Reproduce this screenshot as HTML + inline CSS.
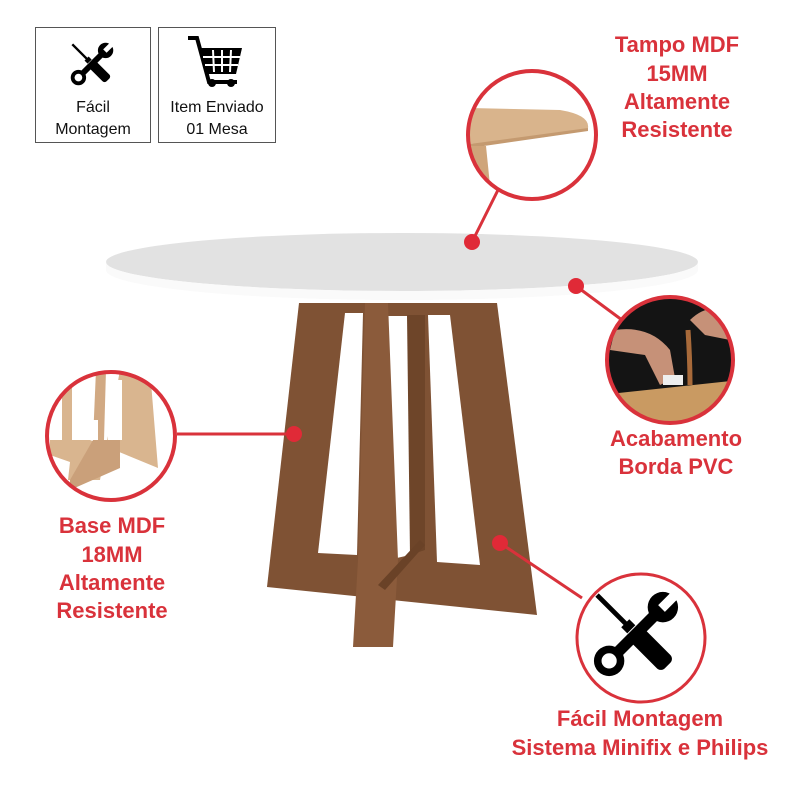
<!DOCTYPE html>
<html><head><meta charset="utf-8"><style>
body{margin:0;background:#fff;}
svg{display:block}
text{font-family:"Liberation Sans",sans-serif}
</style></head><body>
<svg width="800" height="800" viewBox="0 0 800 800" xmlns="http://www.w3.org/2000/svg">
<defs>
<g id="tools">
  <!-- wrench: ring lower-left, jaw upper-right -->
  <g transform="rotate(45)">
    <rect x="-6" y="-36" width="12" height="66" fill="#000"/>
    <circle cx="0" cy="40" r="16" fill="#000"/>
    <circle cx="0" cy="40" r="8" fill="#fff"/>
    <circle cx="0" cy="-40" r="16" fill="#000"/>
    <rect x="-5" y="-60" width="10" height="22" fill="#fff"/>
  </g>
  <!-- screwdriver: tip upper-left, handle lower-right -->
  <g transform="rotate(-45)">
    <rect x="-2.5" y="-58" width="5" height="46" fill="#000"/>
    <rect x="-6" y="-16" width="12" height="9" fill="#000"/>
    <rect x="-10" y="-5" width="20" height="52" rx="6" fill="#000"/>
  </g>
</g>
</defs>

<!-- top-left boxes -->
<rect x="35.5" y="27.5" width="115" height="115" fill="#fff" stroke="#555"/>
<rect x="158.5" y="27.5" width="117" height="115" fill="#fff" stroke="#555"/>
<use href="#tools" transform="translate(92,64) scale(0.48)"/>
<text x="93" y="112" font-size="16" text-anchor="middle" fill="#111">Fácil</text>
<text x="93" y="134" font-size="16" text-anchor="middle" fill="#111">Montagem</text>
<!-- cart -->
<g fill="none" stroke="#000" stroke-width="4">
  <path d="M188,38 h9 l12,44 h28"/>
</g>
<path d="M201,48 h41 l-6,26 h-29z" fill="#000"/>
<g stroke="#fff" stroke-width="2">
  <line x1="213" y1="50" x2="214" y2="72"/><line x1="222" y1="50" x2="222" y2="72"/><line x1="231" y1="50" x2="230" y2="72"/>
  <line x1="203" y1="57" x2="240" y2="57"/><line x1="205" y1="65" x2="238" y2="65"/>
</g>
<circle cx="212" cy="83" r="4" fill="#000"/><circle cx="231" cy="83" r="4" fill="#000"/>
<text x="217" y="112" font-size="16" text-anchor="middle" fill="#111">Item Enviado</text>
<text x="217" y="134" font-size="16" text-anchor="middle" fill="#111">01 Mesa</text>

<!-- table top -->
<ellipse cx="402" cy="272" rx="296" ry="30" fill="#fff"/>
<ellipse cx="402" cy="262" rx="296" ry="29" fill="#e2e2e2"/>
<path d="M106,262 a296,29 0 0 0 592,0 v8 a296,30 0 0 1 -592,0z" fill="#fafafa"/>

<!-- base -->
<path d="M299,303 L497,303 L537,615 L267,587 Z" fill="#7f5234"/>
<path d="M345,313 L363,313 L357,555 L318,553 Z" fill="#fff"/>
<path d="M428,315 L450,315 L480,565 L437,562 Z" fill="#fff"/>
<path d="M387,316 L410,316 L410,555 L388,560 Z" fill="#fff"/>
<path d="M407,315 L425,315 L425,550 L410,555 Z" fill="#6e4529"/>
<path d="M365,303 L388,303 L398,560 L393,647 L353,647 L358,560 Z" fill="#8b5b3b"/>
<path d="M378,585 L420,540 L425,545 L385,590 Z" fill="#6a4227"/>

<!-- connectors -->
<g stroke="#d9323b" stroke-width="3" fill="none">
  <line x1="498" y1="190" x2="472" y2="242"/>
  <line x1="576" y1="286" x2="622" y2="320"/>
  <line x1="177" y1="434" x2="294" y2="434"/>
  <line x1="500" y1="543" x2="582" y2="598"/>
</g>
<g fill="#e02a37">
  <circle cx="472" cy="242" r="8"/>
  <circle cx="576" cy="286" r="8"/>
  <circle cx="294" cy="434" r="8"/>
  <circle cx="500" cy="543" r="8"/>
</g>

<!-- top circle: tabletop detail -->
<clipPath id="c1"><circle cx="532" cy="135" r="64"/></clipPath>
<g clip-path="url(#c1)">
  <rect x="460" y="60" width="150" height="150" fill="#fff"/>
  <path d="M470,108 L560,110 Q590,115 588,128 Q560,138 470,144Z" fill="#d9b48c"/>
  <path d="M470,144 L588,128 L588,131 L470,148Z" fill="#c49a70"/>
  <path d="M470,146 L486,146 L492,205 L470,205Z" fill="#cfa57a"/>
</g>
<circle cx="532" cy="135" r="64" fill="none" stroke="#d9323b" stroke-width="4"/>

<!-- right circle: hands -->
<clipPath id="c2"><circle cx="670" cy="360" r="63"/></clipPath>
<g clip-path="url(#c2)">
  <rect x="600" y="290" width="140" height="140" fill="#141414"/>
  <path d="M600,395 L740,380 L740,430 L600,430Z" fill="#c99a62"/>
  <path d="M615,330 Q650,325 670,350 L675,378 L660,385 L645,355 L610,350Z" fill="#c69178"/>
  <path d="M690,320 Q710,300 735,315 L730,340 L705,335Z" fill="#c69178"/>
  <path d="M688,330 Q690,360 690,385" stroke="#a86a3a" stroke-width="5" fill="none"/>
  <rect x="663" y="375" width="20" height="10" fill="#eee"/>
</g>
<circle cx="670" cy="360" r="63" fill="none" stroke="#d9323b" stroke-width="4"/>

<!-- left circle: light base -->
<clipPath id="c3"><circle cx="111" cy="436" r="64"/></clipPath>
<g clip-path="url(#c3)">
  <rect x="40" y="370" width="150" height="140" fill="#fff"/>
  <path d="M120,370 L150,370 L158,468 L90,440 L50,440 L50,455 L70,462 L68,480 L100,480 Z" fill="#d9b58f"/>
  <path d="M96,370 L106,370 L104,440 L93,440Z" fill="#d1a983"/>
  <path d="M93,440 L120,440 L120,468 L70,490 L70,480Z" fill="#caa07a"/>
  <path d="M62,378 L72,378 L72,440 L62,440Z" fill="#d9b58f"/>
  <path d="M73,420 L98,420 L98,440 L73,440Z" fill="#fff"/>
  <path d="M108,380 L122,380 L122,440 L108,440Z" fill="#fff"/>
</g>
<circle cx="111" cy="436" r="64" fill="none" stroke="#d9323b" stroke-width="4"/>

<!-- bottom right circle: tools -->
<circle cx="641" cy="638" r="64" fill="#fff" stroke="#d9323b" stroke-width="3"/>
<use href="#tools" transform="translate(636,634) scale(0.95)"/>

<!-- labels -->
<g fill="#d9323b" font-weight="bold" font-size="22" text-anchor="middle">
  <text x="677" y="52">Tampo MDF</text>
  <text x="677" y="81">15MM</text>
  <text x="677" y="109">Altamente</text>
  <text x="677" y="137">Resistente</text>
  <text x="676" y="446">Acabamento</text>
  <text x="676" y="474">Borda PVC</text>
  <text x="112" y="533">Base MDF</text>
  <text x="112" y="562">18MM</text>
  <text x="112" y="590">Altamente</text>
  <text x="112" y="618">Resistente</text>
  <text x="640" y="726">Fácil Montagem</text>
  <text x="640" y="755">Sistema Minifix e Philips</text>
</g>
</svg>
</body></html>
